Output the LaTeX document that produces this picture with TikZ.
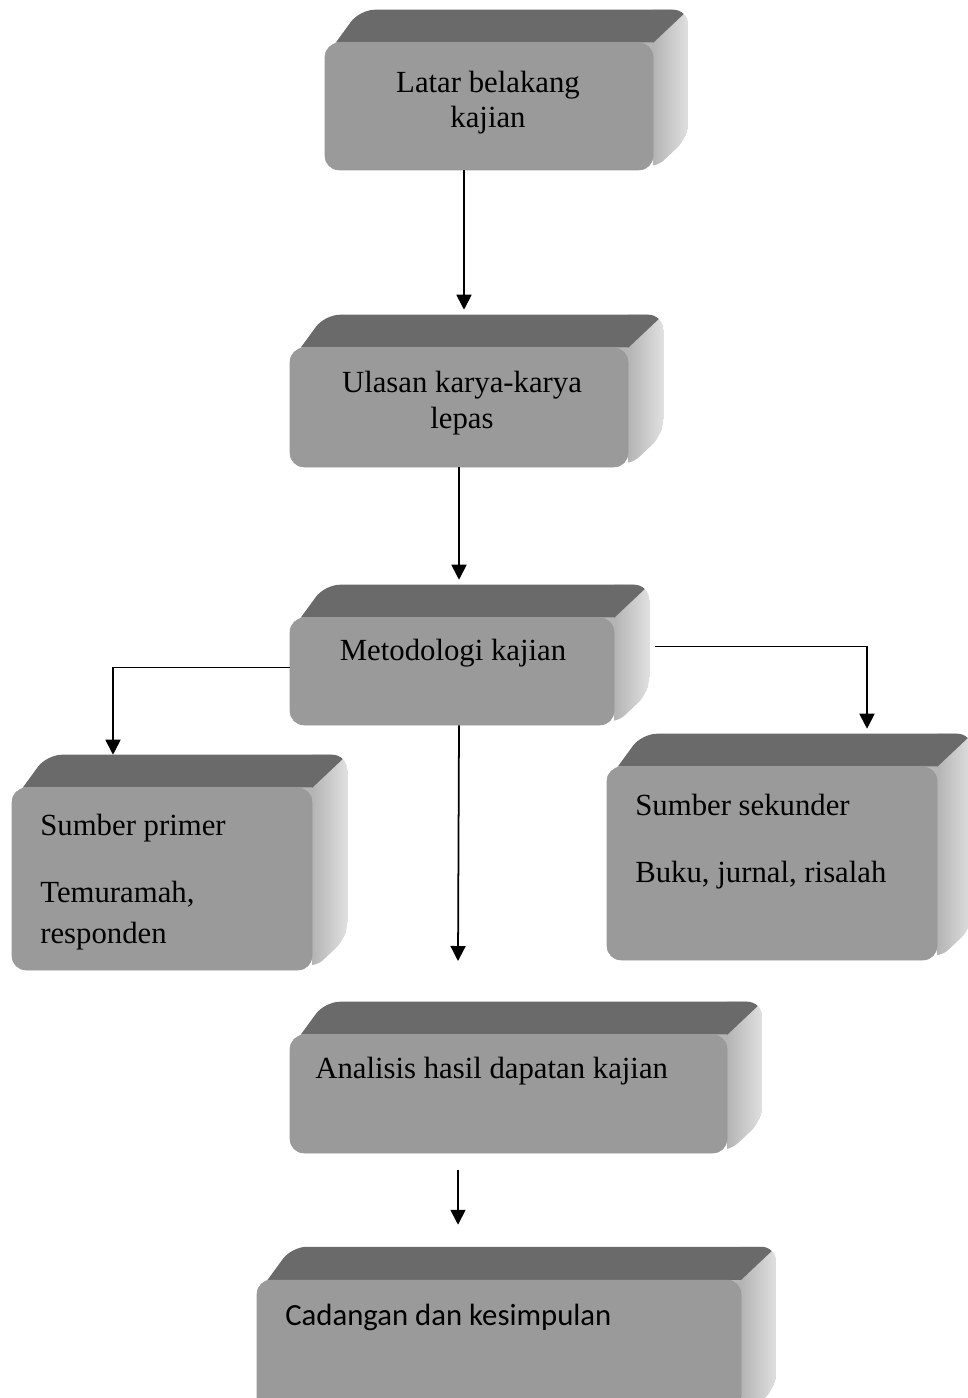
\documentclass[tikz,border=0pt]{standalone}
\usepackage{fontspec}
\setmainfont{Liberation Serif}
\newfontfamily\calibri{Carlito}
\usepackage{tikz}
\usetikzlibrary{arrows.meta,calc,backgrounds}

\definecolor{frontgray}{RGB}{154,154,154}
\definecolor{topgray}{RGB}{106,106,106}
\definecolor{sidedark}{RGB}{180,180,180}
\definecolor{sidelight}{RGB}{224,224,224}

% 3D slab: name, x1, y1, x2, y2 of the front face (in px)
\newcommand{\slab}[5]{%
  \node [block, minimum width={(#4-#2)*0.02cm}, minimum height={(#5-#3)*0.02cm}] (#1) at ({(#2+#4)/2},{(#3+#5)/2}) {};
  \begin{pgfonlayer}{background}
    \begin{scope}
      \clip [rounded corners=0.3cm] ($(#1.north west)+(0,15)$) -- ($(#1.north west)+(35,-33)$) -- ($(#1.north east)+(35,-33)$) -- ($(#1.south east)+(35,-33)$) -- (#1.south east) -- cycle;
      \fill [sidedark] (#1.north west) rectangle ($(#1.south east)+(35,-33)$);
      \shade [left color=sidedark, right color=sidelight] ($(#1.north east)+(0,-33)$) rectangle ($(#1.south east)+(35,0)$);
      \fill [topgray] ($(#1.north west)+(0,15)$) -- ($(#1.north west)+(35,-33)$) -- ($(#1.north east)+(35,-33)$) -- (#1.north east) -- (#1.north west) -- cycle;
    \end{scope}
  \end{pgfonlayer}
  \coordinate (#1-top) at ($(#1.north)+(0,-33)$);
}

\begin{document}
\begin{tikzpicture}[x=0.02cm, y=-0.02cm, auto]

\tikzstyle{block} = [rectangle, draw=black!40, line width=0.3pt, fill=frontgray,
    rounded corners=0.28cm, inner sep=0pt]
\tikzstyle{txt} = [inner sep=0pt, font=\fontsize{17.5}{20.4}\selectfont]
\tikzstyle{list} = [txt, align=left, anchor=base west,
    font=\fontsize{17.5}{23.2}\selectfont]
\tikzstyle{line} = [draw, line width=1pt, -{Triangle[length=0.3cm, width=0.3cm]}]

\useasboundingbox (0,0) rectangle (967,1398);

    % Place boxes
    \slab{latar}{325}{43}{653}{170}
    \slab{ulasan}{290}{348}{628}{467}
    \slab{metod}{290}{618}{614}{725}
    \slab{primer}{12}{788}{312}{970}
    \slab{sekunder}{607}{767}{937}{960}
    \slab{analisis}{290}{1035}{727}{1153}
    \slab{cadangan}{257}{1280}{741}{1420}
    % Texts (base = last line)
    \node [txt, align=center, anchor=base] (latar-t) at (488,128) {Latar belakang\\kajian};
    \node [txt, align=center, anchor=base] (ulasan-t) at (462,428) {Ulasan karya-karya\\lepas};
    \node [txt, anchor=base] (metod-t) at (453,660) {Metodologi kajian};
    \node [list] (primer-t) at (40,943) {Sumber primer\\[14.8pt]Temuramah,\\responden};
    \node [list] (sekunder-t) at (635,882) {Sumber sekunder\\[14.8pt]Buku, jurnal, risalah};
    \node [txt, anchor=base west] (analisis-t) at (315,1078) {Analisis hasil dapatan kajian};
    \node [txt, anchor=base west, font=\calibri\fontsize{17.5}{20}\selectfont] (cadangan-t) at (285,1325) {Cadangan dan kesimpulan};
    \coordinate (kosong) at (458,961);
    % Draw edges
    \path [line, shorten >=0.1cm] ([xshift=0.1cm]latar.south -| ulasan.north) -- ([xshift=0.1cm]ulasan-top);
    \path [line, shorten >=0.1cm] (ulasan.south) -- (ulasan.south |- metod-top);
    \path [line] ([shift={(0,-4)}]metod.west) -| ([shift={(-49,0)}]primer-top);
    \path [line, shorten >=0.1cm] ([shift={(41,-25)}]metod.east) -| ([shift={(95,0)}]sekunder-top);
    \path [line] (metod.south -| ulasan.south) -- (kosong);
    \path [line, shorten <=0.34cm, shorten >=0.44cm] (analisis.south -| kosong) -- (cadangan-top -| kosong);
\end{tikzpicture}
\end{document}
